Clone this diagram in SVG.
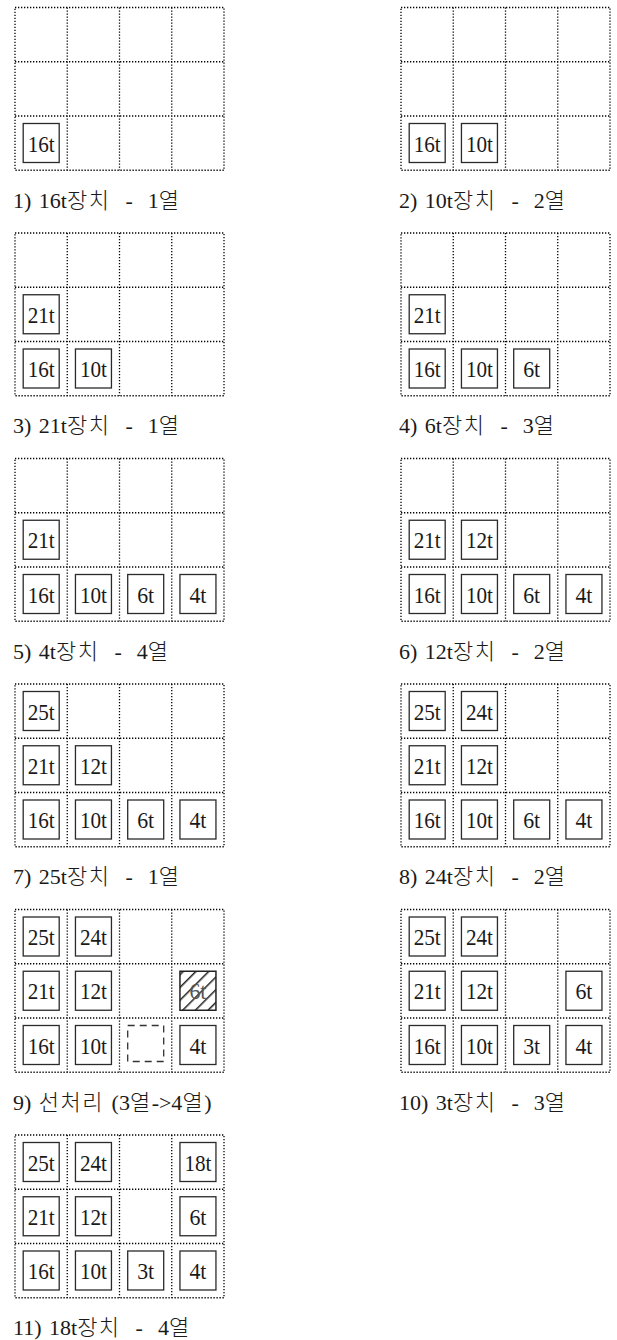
<svg xmlns="http://www.w3.org/2000/svg" width="617" height="1340" viewBox="0 0 617 1340">
<style>
.dot{fill:none;stroke:#000;stroke-width:1.3;stroke-dasharray:1.3 1.7}
.box{fill:#fff;stroke:#2a2a2a;stroke-width:1.3}
.dash{fill:none;stroke:#333;stroke-width:1.3;stroke-dasharray:7 5}
.hat{fill:url(#hatch);stroke:#222;stroke-width:1.5}
.lbl{font-family:"Liberation Serif","Noto Sans CJK KR",serif;font-size:23px;fill:#1a1a1a;text-anchor:middle}
.lbl2{font-family:"Liberation Serif","Noto Sans CJK KR",serif;font-size:23px;fill:#555;text-anchor:middle}
.cap{font-family:"Liberation Serif","Noto Sans CJK KR",serif;font-size:22px;fill:#1a1a1a;word-spacing:2px;white-space:pre}
.ko{font-family:"Noto Sans CJK KR",sans-serif;font-size:22px;font-weight:300;letter-spacing:1.5px}
</style>
<defs>
<pattern id="hatch" patternUnits="userSpaceOnUse" width="9" height="9" patternTransform="rotate(45)">
<rect width="9" height="9" fill="#fff"/>
<line x1="0" y1="0" x2="0" y2="9" stroke="#222" stroke-width="3"/>
</pattern>
<g id="grid">
<rect class="dot" x="0" y="0" width="209" height="162.75"/>
<path class="dot" d="M52.25 0V162.75M104.5 0V162.75M156.75 0V162.75M0 54.25H209M0 108.5H209"/>
</g>
</defs>

<!-- Panel 1 -->
<g id="panel1" transform="translate(15,7.5)">
<use href="#grid"/>
<g id="p1-16t"><rect class="box" x="8.2" y="116" width="36" height="39"/><text class="lbl" x="26.2" y="144" textLength="27" lengthAdjust="spacingAndGlyphs">16t</text></g>
<text id="p1-cap" class="cap" x="-2" y="200" xml:space="preserve">1) 16t<tspan class="ko">장치</tspan>  -  1<tspan class="ko">열</tspan></text>
</g>

<!-- Panel 2 -->
<g id="panel2" transform="translate(401,7.5)">
<use href="#grid"/>
<g id="p2-16t"><rect class="box" x="8.2" y="116" width="36" height="39"/><text class="lbl" x="26.2" y="144" textLength="27" lengthAdjust="spacingAndGlyphs">16t</text></g>
<g id="p2-10t"><rect class="box" x="60.45" y="116" width="36" height="39"/><text class="lbl" x="78.45" y="144" textLength="27" lengthAdjust="spacingAndGlyphs">10t</text></g>
<text id="p2-cap" class="cap" x="-2" y="200" xml:space="preserve">2) 10t<tspan class="ko">장치</tspan>  -  2<tspan class="ko">열</tspan></text>
</g>

<!-- Panel 3 -->
<g id="panel3" transform="translate(15,233)">
<use href="#grid"/>
<g id="p3-21t"><rect class="box" x="8.2" y="61.75" width="36" height="39"/><text class="lbl" x="26.2" y="89.75" textLength="27" lengthAdjust="spacingAndGlyphs">21t</text></g>
<g id="p3-16t"><rect class="box" x="8.2" y="116" width="36" height="39"/><text class="lbl" x="26.2" y="144" textLength="27" lengthAdjust="spacingAndGlyphs">16t</text></g>
<g id="p3-10t"><rect class="box" x="60.45" y="116" width="36" height="39"/><text class="lbl" x="78.45" y="144" textLength="27" lengthAdjust="spacingAndGlyphs">10t</text></g>
<text id="p3-cap" class="cap" x="-2" y="200" xml:space="preserve">3) 21t<tspan class="ko">장치</tspan>  -  1<tspan class="ko">열</tspan></text>
</g>

<!-- Panel 4 -->
<g id="panel4" transform="translate(401,233)">
<use href="#grid"/>
<g id="p4-21t"><rect class="box" x="8.2" y="61.75" width="36" height="39"/><text class="lbl" x="26.2" y="89.75" textLength="27" lengthAdjust="spacingAndGlyphs">21t</text></g>
<g id="p4-16t"><rect class="box" x="8.2" y="116" width="36" height="39"/><text class="lbl" x="26.2" y="144" textLength="27" lengthAdjust="spacingAndGlyphs">16t</text></g>
<g id="p4-10t"><rect class="box" x="60.45" y="116" width="36" height="39"/><text class="lbl" x="78.45" y="144" textLength="27" lengthAdjust="spacingAndGlyphs">10t</text></g>
<g id="p4-6t"><rect class="box" x="112.7" y="116" width="36" height="39"/><text class="lbl" x="130.7" y="144" textLength="17" lengthAdjust="spacingAndGlyphs">6t</text></g>
<text id="p4-cap" class="cap" x="-2" y="200" xml:space="preserve">4) 6t<tspan class="ko">장치</tspan>  -  3<tspan class="ko">열</tspan></text>
</g>

<!-- Panel 5 -->
<g id="panel5" transform="translate(15,458.5)">
<use href="#grid"/>
<g id="p5-21t"><rect class="box" x="8.2" y="61.75" width="36" height="39"/><text class="lbl" x="26.2" y="89.75" textLength="27" lengthAdjust="spacingAndGlyphs">21t</text></g>
<g id="p5-16t"><rect class="box" x="8.2" y="116" width="36" height="39"/><text class="lbl" x="26.2" y="144" textLength="27" lengthAdjust="spacingAndGlyphs">16t</text></g>
<g id="p5-10t"><rect class="box" x="60.45" y="116" width="36" height="39"/><text class="lbl" x="78.45" y="144" textLength="27" lengthAdjust="spacingAndGlyphs">10t</text></g>
<g id="p5-6t"><rect class="box" x="112.7" y="116" width="36" height="39"/><text class="lbl" x="130.7" y="144" textLength="17" lengthAdjust="spacingAndGlyphs">6t</text></g>
<g id="p5-4t"><rect class="box" x="164.95" y="116" width="36" height="39"/><text class="lbl" x="182.95" y="144" textLength="17" lengthAdjust="spacingAndGlyphs">4t</text></g>
<text id="p5-cap" class="cap" x="-2" y="200" xml:space="preserve">5) 4t<tspan class="ko">장치</tspan>  -  4<tspan class="ko">열</tspan></text>
</g>

<!-- Panel 6 -->
<g id="panel6" transform="translate(401,458.5)">
<use href="#grid"/>
<g id="p6-21t"><rect class="box" x="8.2" y="61.75" width="36" height="39"/><text class="lbl" x="26.2" y="89.75" textLength="27" lengthAdjust="spacingAndGlyphs">21t</text></g>
<g id="p6-12t"><rect class="box" x="60.45" y="61.75" width="36" height="39"/><text class="lbl" x="78.45" y="89.75" textLength="27" lengthAdjust="spacingAndGlyphs">12t</text></g>
<g id="p6-16t"><rect class="box" x="8.2" y="116" width="36" height="39"/><text class="lbl" x="26.2" y="144" textLength="27" lengthAdjust="spacingAndGlyphs">16t</text></g>
<g id="p6-10t"><rect class="box" x="60.45" y="116" width="36" height="39"/><text class="lbl" x="78.45" y="144" textLength="27" lengthAdjust="spacingAndGlyphs">10t</text></g>
<g id="p6-6t"><rect class="box" x="112.7" y="116" width="36" height="39"/><text class="lbl" x="130.7" y="144" textLength="17" lengthAdjust="spacingAndGlyphs">6t</text></g>
<g id="p6-4t"><rect class="box" x="164.95" y="116" width="36" height="39"/><text class="lbl" x="182.95" y="144" textLength="17" lengthAdjust="spacingAndGlyphs">4t</text></g>
<text id="p6-cap" class="cap" x="-2" y="200" xml:space="preserve">6) 12t<tspan class="ko">장치</tspan>  -  2<tspan class="ko">열</tspan></text>
</g>

<!-- Panel 7 -->
<g id="panel7" transform="translate(15,684)">
<use href="#grid"/>
<g id="p7-25t"><rect class="box" x="8.2" y="7.5" width="36" height="39"/><text class="lbl" x="26.2" y="35.5" textLength="27" lengthAdjust="spacingAndGlyphs">25t</text></g>
<g id="p7-21t"><rect class="box" x="8.2" y="61.75" width="36" height="39"/><text class="lbl" x="26.2" y="89.75" textLength="27" lengthAdjust="spacingAndGlyphs">21t</text></g>
<g id="p7-12t"><rect class="box" x="60.45" y="61.75" width="36" height="39"/><text class="lbl" x="78.45" y="89.75" textLength="27" lengthAdjust="spacingAndGlyphs">12t</text></g>
<g id="p7-16t"><rect class="box" x="8.2" y="116" width="36" height="39"/><text class="lbl" x="26.2" y="144" textLength="27" lengthAdjust="spacingAndGlyphs">16t</text></g>
<g id="p7-10t"><rect class="box" x="60.45" y="116" width="36" height="39"/><text class="lbl" x="78.45" y="144" textLength="27" lengthAdjust="spacingAndGlyphs">10t</text></g>
<g id="p7-6t"><rect class="box" x="112.7" y="116" width="36" height="39"/><text class="lbl" x="130.7" y="144" textLength="17" lengthAdjust="spacingAndGlyphs">6t</text></g>
<g id="p7-4t"><rect class="box" x="164.95" y="116" width="36" height="39"/><text class="lbl" x="182.95" y="144" textLength="17" lengthAdjust="spacingAndGlyphs">4t</text></g>
<text id="p7-cap" class="cap" x="-2" y="200" xml:space="preserve">7) 25t<tspan class="ko">장치</tspan>  -  1<tspan class="ko">열</tspan></text>
</g>

<!-- Panel 8 -->
<g id="panel8" transform="translate(401,684)">
<use href="#grid"/>
<g id="p8-25t"><rect class="box" x="8.2" y="7.5" width="36" height="39"/><text class="lbl" x="26.2" y="35.5" textLength="27" lengthAdjust="spacingAndGlyphs">25t</text></g>
<g id="p8-24t"><rect class="box" x="60.45" y="7.5" width="36" height="39"/><text class="lbl" x="78.45" y="35.5" textLength="27" lengthAdjust="spacingAndGlyphs">24t</text></g>
<g id="p8-21t"><rect class="box" x="8.2" y="61.75" width="36" height="39"/><text class="lbl" x="26.2" y="89.75" textLength="27" lengthAdjust="spacingAndGlyphs">21t</text></g>
<g id="p8-12t"><rect class="box" x="60.45" y="61.75" width="36" height="39"/><text class="lbl" x="78.45" y="89.75" textLength="27" lengthAdjust="spacingAndGlyphs">12t</text></g>
<g id="p8-16t"><rect class="box" x="8.2" y="116" width="36" height="39"/><text class="lbl" x="26.2" y="144" textLength="27" lengthAdjust="spacingAndGlyphs">16t</text></g>
<g id="p8-10t"><rect class="box" x="60.45" y="116" width="36" height="39"/><text class="lbl" x="78.45" y="144" textLength="27" lengthAdjust="spacingAndGlyphs">10t</text></g>
<g id="p8-6t"><rect class="box" x="112.7" y="116" width="36" height="39"/><text class="lbl" x="130.7" y="144" textLength="17" lengthAdjust="spacingAndGlyphs">6t</text></g>
<g id="p8-4t"><rect class="box" x="164.95" y="116" width="36" height="39"/><text class="lbl" x="182.95" y="144" textLength="17" lengthAdjust="spacingAndGlyphs">4t</text></g>
<text id="p8-cap" class="cap" x="-2" y="200" xml:space="preserve">8) 24t<tspan class="ko">장치</tspan>  -  2<tspan class="ko">열</tspan></text>
</g>

<!-- Panel 9 -->
<g id="panel9" transform="translate(15,909.5)">
<use href="#grid"/>
<g id="p9-25t"><rect class="box" x="8.2" y="7.5" width="36" height="39"/><text class="lbl" x="26.2" y="35.5" textLength="27" lengthAdjust="spacingAndGlyphs">25t</text></g>
<g id="p9-24t"><rect class="box" x="60.45" y="7.5" width="36" height="39"/><text class="lbl" x="78.45" y="35.5" textLength="27" lengthAdjust="spacingAndGlyphs">24t</text></g>
<g id="p9-21t"><rect class="box" x="8.2" y="61.75" width="36" height="39"/><text class="lbl" x="26.2" y="89.75" textLength="27" lengthAdjust="spacingAndGlyphs">21t</text></g>
<g id="p9-12t"><rect class="box" x="60.45" y="61.75" width="36" height="39"/><text class="lbl" x="78.45" y="89.75" textLength="27" lengthAdjust="spacingAndGlyphs">12t</text></g>
<g id="p9-6t"><rect class="hat" x="164.95" y="61.75" width="36" height="39"/><text class="lbl2" x="182.95" y="89.75" textLength="17" lengthAdjust="spacingAndGlyphs">6t</text></g>
<g id="p9-16t"><rect class="box" x="8.2" y="116" width="36" height="39"/><text class="lbl" x="26.2" y="144" textLength="27" lengthAdjust="spacingAndGlyphs">16t</text></g>
<g id="p9-10t"><rect class="box" x="60.45" y="116" width="36" height="39"/><text class="lbl" x="78.45" y="144" textLength="27" lengthAdjust="spacingAndGlyphs">10t</text></g>
<g id="p9-empty"><rect class="dash" x="112.7" y="116" width="36" height="36"/></g>
<g id="p9-4t"><rect class="box" x="164.95" y="116" width="36" height="39"/><text class="lbl" x="182.95" y="144" textLength="17" lengthAdjust="spacingAndGlyphs">4t</text></g>
<text id="p9-cap" class="cap" x="-2" y="200" xml:space="preserve">9) <tspan class="ko">선처리</tspan> (3<tspan class="ko">열</tspan>-&gt;4<tspan class="ko">열</tspan>)</text>
</g>

<!-- Panel 10 -->
<g id="panel10" transform="translate(401,909.5)">
<use href="#grid"/>
<g id="p10-25t"><rect class="box" x="8.2" y="7.5" width="36" height="39"/><text class="lbl" x="26.2" y="35.5" textLength="27" lengthAdjust="spacingAndGlyphs">25t</text></g>
<g id="p10-24t"><rect class="box" x="60.45" y="7.5" width="36" height="39"/><text class="lbl" x="78.45" y="35.5" textLength="27" lengthAdjust="spacingAndGlyphs">24t</text></g>
<g id="p10-21t"><rect class="box" x="8.2" y="61.75" width="36" height="39"/><text class="lbl" x="26.2" y="89.75" textLength="27" lengthAdjust="spacingAndGlyphs">21t</text></g>
<g id="p10-12t"><rect class="box" x="60.45" y="61.75" width="36" height="39"/><text class="lbl" x="78.45" y="89.75" textLength="27" lengthAdjust="spacingAndGlyphs">12t</text></g>
<g id="p10-6t"><rect class="box" x="164.95" y="61.75" width="36" height="39"/><text class="lbl" x="182.95" y="89.75" textLength="17" lengthAdjust="spacingAndGlyphs">6t</text></g>
<g id="p10-16t"><rect class="box" x="8.2" y="116" width="36" height="39"/><text class="lbl" x="26.2" y="144" textLength="27" lengthAdjust="spacingAndGlyphs">16t</text></g>
<g id="p10-10t"><rect class="box" x="60.45" y="116" width="36" height="39"/><text class="lbl" x="78.45" y="144" textLength="27" lengthAdjust="spacingAndGlyphs">10t</text></g>
<g id="p10-3t"><rect class="box" x="112.7" y="116" width="36" height="39"/><text class="lbl" x="130.7" y="144" textLength="17" lengthAdjust="spacingAndGlyphs">3t</text></g>
<g id="p10-4t"><rect class="box" x="164.95" y="116" width="36" height="39"/><text class="lbl" x="182.95" y="144" textLength="17" lengthAdjust="spacingAndGlyphs">4t</text></g>
<text id="p10-cap" class="cap" x="-2" y="200" xml:space="preserve">10) 3t<tspan class="ko">장치</tspan>  -  3<tspan class="ko">열</tspan></text>
</g>

<!-- Panel 11 -->
<g id="panel11" transform="translate(15,1135)">
<use href="#grid"/>
<g id="p11-25t"><rect class="box" x="8.2" y="7.5" width="36" height="39"/><text class="lbl" x="26.2" y="35.5" textLength="27" lengthAdjust="spacingAndGlyphs">25t</text></g>
<g id="p11-24t"><rect class="box" x="60.45" y="7.5" width="36" height="39"/><text class="lbl" x="78.45" y="35.5" textLength="27" lengthAdjust="spacingAndGlyphs">24t</text></g>
<g id="p11-18t"><rect class="box" x="164.95" y="7.5" width="36" height="39"/><text class="lbl" x="182.95" y="35.5" textLength="27" lengthAdjust="spacingAndGlyphs">18t</text></g>
<g id="p11-21t"><rect class="box" x="8.2" y="61.75" width="36" height="39"/><text class="lbl" x="26.2" y="89.75" textLength="27" lengthAdjust="spacingAndGlyphs">21t</text></g>
<g id="p11-12t"><rect class="box" x="60.45" y="61.75" width="36" height="39"/><text class="lbl" x="78.45" y="89.75" textLength="27" lengthAdjust="spacingAndGlyphs">12t</text></g>
<g id="p11-6t"><rect class="box" x="164.95" y="61.75" width="36" height="39"/><text class="lbl" x="182.95" y="89.75" textLength="17" lengthAdjust="spacingAndGlyphs">6t</text></g>
<g id="p11-16t"><rect class="box" x="8.2" y="116" width="36" height="39"/><text class="lbl" x="26.2" y="144" textLength="27" lengthAdjust="spacingAndGlyphs">16t</text></g>
<g id="p11-10t"><rect class="box" x="60.45" y="116" width="36" height="39"/><text class="lbl" x="78.45" y="144" textLength="27" lengthAdjust="spacingAndGlyphs">10t</text></g>
<g id="p11-3t"><rect class="box" x="112.7" y="116" width="36" height="39"/><text class="lbl" x="130.7" y="144" textLength="17" lengthAdjust="spacingAndGlyphs">3t</text></g>
<g id="p11-4t"><rect class="box" x="164.95" y="116" width="36" height="39"/><text class="lbl" x="182.95" y="144" textLength="17" lengthAdjust="spacingAndGlyphs">4t</text></g>
<text id="p11-cap" class="cap" x="-2" y="200" xml:space="preserve">11) 18t<tspan class="ko">장치</tspan>  -  4<tspan class="ko">열</tspan></text>
</g>
</svg>
